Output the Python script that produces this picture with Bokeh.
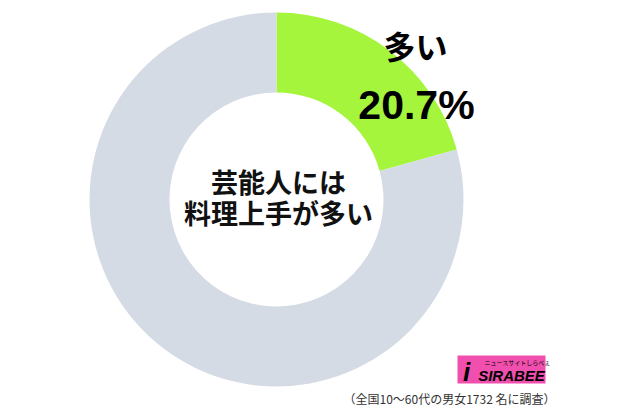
import numpy as np
from bokeh.plotting import figure
from bokeh.models import Range1d, ColumnDataSource
from bokeh.core.properties import value
from bokeh.embed import file_html
from bokeh.resources import INLINE

# data
categories = ["多い", "その他"]
values = [20.7, 79.3]
colors = ["#a4f53c", "#d5dbe4"]
title_lines = ["芸能人には", "料理上手が多い"]
label_text = "多い"
label_value = "20.7%"
note = "（全国10～60代の男女1732 名に調査）"

W, H = 613, 406
p = figure(width=W, height=H, x_range=Range1d(0, W), y_range=Range1d(0, H),
           output_backend="svg", toolbar_location=None, min_border=0,
           outline_line_color=None)
p.axis.visible = False
p.grid.visible = False
p.background_fill_color = "white"
p.border_fill_color = "white"

cx, cy = 276, 207
R_out, R_in = 187, 107

fr = np.array(values) / sum(values)
cum = np.concatenate([[0], np.cumsum(fr)])
start = np.pi / 2 - cum[:-1] * 2 * np.pi
end = np.pi / 2 - cum[1:] * 2 * np.pi
src = ColumnDataSource(dict(start=start, end=end, color=colors, cat=categories))
p.annular_wedge(x=cx, y=cy, inner_radius=R_in, outer_radius=R_out,
                start_angle="start", end_angle="end", direction="clock",
                fill_color="color", line_color=None, source=src)

# label of green slice
p.text(x=[415], y=[362], text=[label_text], text_font=value("Noto Sans CJK JP"),
       text_font_style="bold", text_font_size="32px", text_align="center",
       text_baseline="middle", text_color="black")
p.text(x=[416], y=[302], text=[label_value], text_font=value("Liberation Sans"),
       text_font_style="bold", text_font_size="41px", text_align="center",
       text_baseline="middle", text_color="black")

# center title
p.text(x=[278, 278], y=[225, 194], text=title_lines,
       text_font=value("Noto Sans CJK JP"), text_font_style="bold",
       text_font_size="27px", text_align="center", text_baseline="middle",
       text_color="#111111")

# logo
p.rect(x=[501], y=[37], width=88, height=28, fill_color="#f04fae", line_color=None)
p.text(x=[511], y=[31], text=["SIRABEE"], text_font=value("Liberation Sans"),
       text_font_style="bold italic", text_font_size="15px", text_align="center",
       text_baseline="middle", text_color="black")
p.text(x=[517], y=[44], text=["ニュースサイトしらべぇ"], text_font=value("Noto Sans CJK JP"),
       text_font_size="6px", text_align="center", text_baseline="middle",
       text_color="black")
p.text(x=[466], y=[35], text=["i"], text_font=value("Liberation Sans"),
       text_font_style="bold italic", text_font_size="26px", text_align="center",
       text_baseline="middle", text_color="black")

# note
p.text(x=[555], y=[8], text=[note], text_font=value("Noto Sans CJK JP"),
       text_font_size="12px", text_align="right", text_baseline="middle",
       text_color="#333333")

open("out.html", "w").write(file_html(p, INLINE))
